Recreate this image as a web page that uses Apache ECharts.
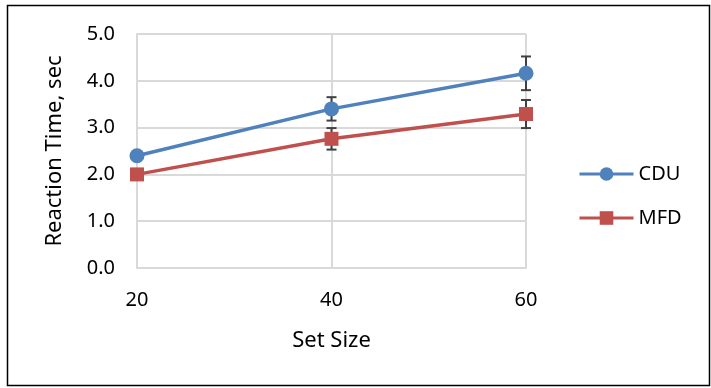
<!DOCTYPE html>
<html>
<head>
<meta charset="utf-8">
<script src="https://cdn.jsdelivr.net/npm/echarts@6/dist/echarts.min.js"></script>
<style>html,body{margin:0;padding:0;background:#fff;}#c{width:711px;height:388px;}</style>
</head>
<body>
<div id="c"></div>
<script>
var categories = ['20', '40', '60'];
var cduValues = [2.40, 3.40, 4.16];
var cduErrors = [0.08, 0.25, 0.36];
var mfdValues = [2.00, 2.76, 3.29];
var mfdErrors = [0.08, 0.23, 0.30];
var yTicks = [0, 1, 2, 3, 4, 5];

var FONT = 'Noto Sans';
function errData(vals, errs) {
  return vals.map(function (v, i) { return [i, v - errs[i], v + errs[i]]; });
}
function errRender(params, api) {
  var x = api.value(0);
  var lo = api.coord([x, api.value(1)]);
  var hi = api.coord([x, api.value(2)]);
  var w = 5;
  var st = { stroke: '#404040', lineWidth: 2 };
  return {
    type: 'group',
    children: [
      { type: 'line', shape: { x1: hi[0], y1: hi[1], x2: lo[0], y2: lo[1] }, style: st },
      { type: 'line', shape: { x1: hi[0] - w, y1: hi[1], x2: hi[0] + w, y2: hi[1] }, style: st },
      { type: 'line', shape: { x1: lo[0] - w, y1: lo[1], x2: lo[0] + w, y2: lo[1] }, style: st }
    ]
  };
}

var chart = echarts.init(document.getElementById('c'), null, { renderer: 'canvas' });
chart.setOption({
  animation: false,
  backgroundColor: '#fff',
  textStyle: { fontFamily: FONT },
  graphic: [{
    type: 'rect', z: 100, silent: true,
    shape: { x: 7.5, y: 5.5, width: 702, height: 380 },
    style: { fill: null, stroke: '#000', lineWidth: 1.5 }
  }],
  grid: { left: 137, right: 185, top: 34, bottom: 120 },
  legend: {
    orient: 'vertical', left: 578, top: 164, itemGap: 24, padding: 0,
    itemWidth: 54, itemHeight: 17,
    lineStyle: { width: 3 },
    textStyle: { fontFamily: FONT, fontSize: 20, color: '#000' },
    data: ['CDU', 'MFD']
  },
  xAxis: {
    type: 'category', data: categories, boundaryGap: false,
    name: 'Set Size', nameLocation: 'middle', nameGap: 62,
    nameTextStyle: { fontFamily: FONT, fontSize: 22, color: '#000' },
    axisLine: { lineStyle: { color: '#D9D9D9', width: 2 } },
    axisTick: { show: false },
    axisLabel: { fontFamily: FONT, fontSize: 20, color: '#000', margin: 22 },
    splitLine: { show: true, lineStyle: { color: '#D9D9D9', width: 2 } }
  },
  yAxis: {
    type: 'value', min: yTicks[0], max: yTicks[yTicks.length - 1], interval: 1,
    name: 'Reaction Time, sec', nameLocation: 'middle', nameGap: 71,
    nameTextStyle: { fontFamily: FONT, fontSize: 22, color: '#000' },
    axisLine: { show: true, lineStyle: { color: '#D9D9D9', width: 2 } },
    axisTick: { show: false },
    axisLabel: { fontFamily: FONT, fontSize: 20, color: '#000', margin: 22,
      formatter: function (v) { return v.toFixed(1); } },
    splitLine: { show: true, lineStyle: { color: '#D9D9D9', width: 2 } }
  },
  series: [
    { type: 'custom', name: 'cduErr', renderItem: errRender, data: errData(cduValues, cduErrors), z: 1, silent: true },
    { type: 'custom', name: 'mfdErr', renderItem: errRender, data: errData(mfdValues, mfdErrors), z: 1, silent: true },
    {
      name: 'CDU', type: 'line', data: cduValues, z: 3,
      symbol: 'circle', symbolSize: 15,
      lineStyle: { color: '#4F81BD', width: 3.5 },
      itemStyle: { color: '#4F81BD' }
    },
    {
      name: 'MFD', type: 'line', data: mfdValues, z: 2,
      symbol: 'rect', symbolSize: 14,
      lineStyle: { color: '#C0504D', width: 3.5 },
      itemStyle: { color: '#C0504D' }
    }
  ]
});
</script>
</body>
</html>
